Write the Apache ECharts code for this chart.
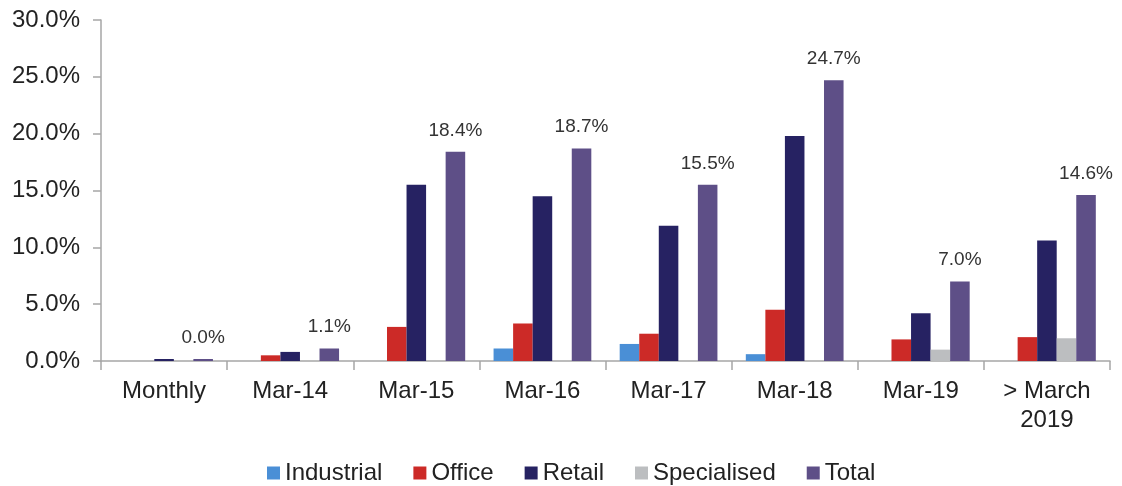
<!DOCTYPE html>
<html>
<head>
<meta charset="utf-8">
<style>
  html, body { margin: 0; padding: 0; background: #fff; }
  #main { width: 1122px; height: 486px; }
</style>
<script src="https://cdn.jsdelivr.net/npm/echarts@6/dist/echarts.min.js"></script>
</head>
<body>
<div id="main"></div>
<script>
// categories and values (in %)
var categories = ['Monthly', 'Mar-14', 'Mar-15', 'Mar-16', 'Mar-17', 'Mar-18', 'Mar-19', '> March\n2019']
var industrial = [0, 0, 0, 1.1, 1.5, 0.6, 0, 0]
var office = [0, 0.5, 3.0, 3.3, 2.4, 4.5, 1.9, 2.1]
var retail = [0.1, 0.8, 15.5, 14.5, 11.9, 19.8, 4.2, 10.6]
var specialised = [0, 0, 0, 0, 0, 0, 1.0, 2.0]
var total = [0.04, 1.1, 18.4, 18.7, 15.5, 24.7, 7.0, 14.6]

var font = 'Liberation Sans, Arial, sans-serif'
var axisColor = '#a6a6a6'

function bar(name, data, color, extra) {
  var s = {
    name: name,
    type: 'bar',
    data: data,
    barGap: 0,
    barCategoryGap: '22.5%',
    itemStyle: { color: color },
    emphasis: { disabled: true }
  }
  for (var k in extra) s[k] = extra[k]
  return s
}

var myChart = echarts.init(document.getElementById('main'))
myChart.setOption({
  animation: false,
  textStyle: { fontFamily: font },
  grid: { left: 101, right: 12, top: 20, bottom: 125, containLabel: false },
  legend: {
    top: 456,
    left: 262,
    itemWidth: 13,
    itemHeight: 13,
    itemGap: 31,
    icon: 'rect',
    textStyle: { fontFamily: font, fontSize: 24, color: '#222' },
    data: ['Industrial', 'Office', 'Retail', 'Specialised', 'Total']
  },
  xAxis: {
    type: 'category',
    data: categories,
    axisLine: { lineStyle: { color: axisColor, width: 1.5 } },
    axisTick: { show: true, length: 9, lineStyle: { color: axisColor, width: 1.5 } },
    axisLabel: { fontFamily: font, fontSize: 24, color: '#222', margin: 16, lineHeight: 29, interval: 0 }
  },
  yAxis: {
    type: 'value',
    min: 0,
    max: 30,
    interval: 5,
    splitLine: { show: false },
    axisLine: { show: true, lineStyle: { color: axisColor, width: 1.5 } },
    axisTick: { show: true, length: 8, lineStyle: { color: axisColor, width: 1.5 } },
    axisLabel: {
      fontFamily: font, fontSize: 24, color: '#222', margin: 21,
      formatter: function (v) { return v.toFixed(1) + '%' }
    }
  },
  series: [
    bar('Industrial', industrial, '#4a8fd6'),
    bar('Office', office, '#cc2a27'),
    bar('Retail', retail, '#262262', { barMinHeight: 2 }),
    bar('Specialised', specialised, '#bcbec0'),
    bar('Total', total, '#5e4f87', {
      barMinHeight: 2,
      label: {
        show: true,
        position: 'top',
        distance: 12,
        fontFamily: font,
        fontSize: 19,
        color: '#333',
        formatter: function (p) { return p.value.toFixed(1) + '%' }
      }
    })
  ]
})
</script>
</body>
</html>
